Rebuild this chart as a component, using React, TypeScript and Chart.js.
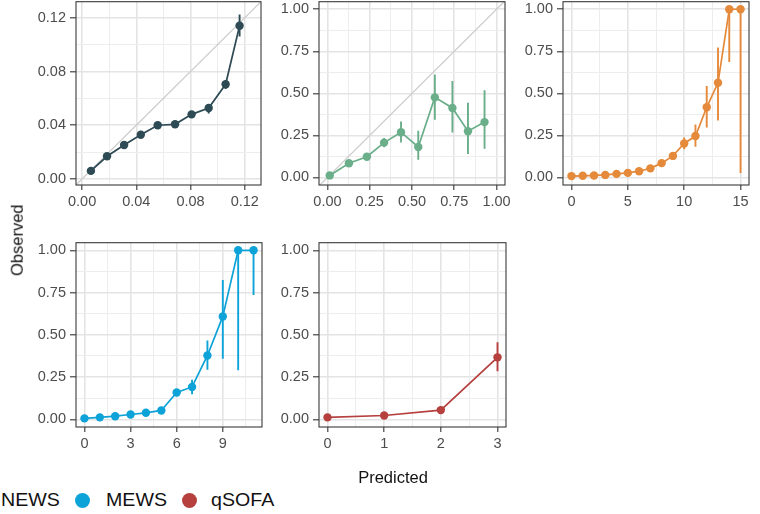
import React, { useEffect, useRef } from 'react';
import { Chart, registerables } from 'chart.js';

Chart.register(...registerables);

const FONT = '"Liberation Sans", Arial, Helvetica, sans-serif';

// ---------- Data ----------
// Panel 1 (dark slate model)
const m1Pred = [0.0065, 0.0184, 0.031, 0.0433, 0.0558, 0.0686, 0.0808, 0.0934, 0.1059, 0.1162];
const m1Obs = [0.006, 0.0169, 0.0253, 0.0329, 0.040, 0.0407, 0.0481, 0.0528, 0.0705, 0.1141];
const m1Lo = [0.0054, 0.0160, 0.0243, 0.0318, 0.0388, 0.0394, 0.0465, 0.0488, 0.0670, 0.1060];
const m1Hi = [0.0067, 0.0178, 0.0263, 0.0340, 0.0412, 0.0420, 0.0497, 0.0547, 0.0735, 0.1225];
const m1Ticks = [0, 0.04, 0.08, 0.12];

// Panel 2 (green model)
const m2Pred = [0.0135, 0.127, 0.233, 0.335, 0.435, 0.537, 0.635, 0.739, 0.831, 0.929];
const m2Obs = [0.012, 0.084, 0.123, 0.207, 0.269, 0.181, 0.476, 0.413, 0.275, 0.329];
const m2Lo = [0.006, 0.074, 0.110, 0.180, 0.207, 0.105, 0.343, 0.267, 0.140, 0.170];
const m2Hi = [0.018, 0.094, 0.136, 0.235, 0.333, 0.277, 0.612, 0.573, 0.444, 0.519];
const probTicks = [0, 0.25, 0.5, 0.75, 1];

// Panel 3 (NEWS)
const newsScore = [0, 1, 2, 3, 4, 5, 6, 7, 8, 9, 10, 11, 12, 13, 14, 15];
const newsObs = [0.008, 0.0097, 0.0117, 0.015, 0.021, 0.027, 0.037, 0.054, 0.085, 0.128, 0.202, 0.246, 0.417, 0.563, 1.0, 1.0];
const newsLo = [0.007, 0.009, 0.011, 0.014, 0.019, 0.025, 0.034, 0.049, 0.077, 0.115, 0.167, 0.183, 0.297, 0.339, 0.686, 0.027];
const newsHi = [0.009, 0.011, 0.013, 0.016, 0.023, 0.030, 0.041, 0.060, 0.094, 0.142, 0.238, 0.315, 0.544, 0.772, 1.0, 1.0];
const newsTicks = [0, 5, 10, 15];

// Panel 4 (MEWS)
const mewsScore = [0, 1, 2, 3, 4, 5, 6, 7, 8, 9, 10, 11];
const mewsObs = [0.006, 0.012, 0.019, 0.029, 0.039, 0.053, 0.159, 0.192, 0.378, 0.609, 1.0, 1.0];
const mewsLo = [0.005, 0.011, 0.017, 0.026, 0.035, 0.047, 0.145, 0.149, 0.294, 0.358, 0.29, 0.735];
const mewsHi = [0.007, 0.013, 0.021, 0.032, 0.043, 0.060, 0.174, 0.235, 0.466, 0.825, 1.0, 1.0];
const mewsTicks = [0, 3, 6, 9];

// Panel 5 (qSOFA)
const qsofaScore = [0, 1, 2, 3];
const qsofaObs = [0.012, 0.023, 0.055, 0.367];
const qsofaLo = [0.011, 0.021, 0.049, 0.285];
const qsofaHi = [0.013, 0.025, 0.062, 0.456];
const qsofaTicks = [0, 1, 2, 3];

const legendLabels = ['NEWS', 'MEWS', 'qSOFA'];
const legendColors = ['#E5893A', '#0EA3D8', '#B5403E'];

const xTitle = 'Predicted';
const yTitle = 'Observed';

// ---------- Layout ----------
type PanelSpec = {
  left: number; top: number; w: number; h: number;
  xMin: number; xMax: number; yMin: number; yMax: number;
  xTicks: number[]; yTicks: number[]; xDec: number; yDec: number;
  color: string; pred: number[]; obs: number[]; lo: number[]; hi: number[];
  identity: boolean;
};

const panels: PanelSpec[] = [
  { left: 76, top: 1, w: 185, h: 184, xMin: -0.0045, xMax: 0.132, yMin: -0.0045, yMax: 0.132,
    xTicks: m1Ticks, yTicks: m1Ticks, xDec: 2, yDec: 2, color: '#2E4A54',
    pred: m1Pred, obs: m1Obs, lo: m1Lo, hi: m1Hi, identity: true },
  { left: 319, top: 1, w: 186, h: 184, xMin: -0.05, xMax: 1.05, yMin: -0.045, yMax: 1.045,
    xTicks: probTicks, yTicks: probTicks, xDec: 2, yDec: 2, color: '#6AAE8A',
    pred: m2Pred, obs: m2Obs, lo: m2Lo, hi: m2Hi, identity: true },
  { left: 563, top: 1, w: 186, h: 184, xMin: -0.75, xMax: 15.75, yMin: -0.045, yMax: 1.045,
    xTicks: newsTicks, yTicks: probTicks, xDec: 0, yDec: 2, color: legendColors[0],
    pred: newsScore, obs: newsObs, lo: newsLo, hi: newsHi, identity: false },
  { left: 76, top: 242, w: 186, h: 185, xMin: -0.55, xMax: 11.55, yMin: -0.045, yMax: 1.045,
    xTicks: mewsTicks, yTicks: probTicks, xDec: 0, yDec: 2, color: legendColors[1],
    pred: mewsScore, obs: mewsObs, lo: mewsLo, hi: mewsHi, identity: false },
  { left: 319, top: 242, w: 187, h: 185, xMin: -0.15, xMax: 3.15, yMin: -0.045, yMax: 1.045,
    xTicks: qsofaTicks, yTicks: probTicks, xDec: 0, yDec: 2, color: legendColors[2],
    pred: qsofaScore, obs: qsofaObs, lo: qsofaLo, hi: qsofaHi, identity: false },
];

const YW = 76;
const PR = 24;
const PT = 12;
const XH = 34;

function makeAxis(min: number, max: number, majors: number[], dec: number, isX: boolean) {
  const step = majors[1] - majors[0];
  const minors: number[] = [];
  for (let v = majors[0] - step / 2; v <= max + 1e-12; v += step) {
    if (v >= min) minors.push(v);
  }
  const all = [...majors, ...minors].filter(v => v >= min && v <= max).sort((a, b) => a - b);
  const isMajor = (v: number) => majors.some(m => Math.abs(m - v) < step * 1e-3);
  return {
    type: 'linear' as const,
    min, max,
    bounds: 'data' as const,
    afterBuildTicks: (s: any) => { s.ticks = all.map(v => ({ value: v })); },
    afterFit: (s: any) => { if (isX) s.height = XH; else s.width = YW; },
    border: { display: false },
    grid: {
      color: (c: any) => (c.tick && isMajor(c.tick.value) ? '#E4E4E4' : '#EDEDED'),
      lineWidth: (c: any) => (c.tick && isMajor(c.tick.value) ? 1.6 : 1.0),
      tickColor: (c: any) => (c.tick && isMajor(c.tick.value) ? '#333333' : 'rgba(0,0,0,0)'),
      tickLength: isX ? 5 : 6,
      tickWidth: 1.1,
      drawTicks: true,
    },
    ticks: {
      autoSkip: false,
      maxRotation: 0,
      minRotation: 0,
      padding: isX ? 3 : 4,
      color: '#4D4D4D',
      font: { family: FONT, size: 14.5 },
      callback: (v: any) => (isMajor(Number(v)) ? Number(v).toFixed(dec) : ''),
    },
  };
}

function extrasPlugin(p: PanelSpec) {
  return {
    id: 'panelExtras',
    beforeDatasetsDraw(chart: any) {
      const { ctx, chartArea: a, scales } = chart;
      const x = scales.x, y = scales.y;
      ctx.save();
      ctx.beginPath();
      ctx.rect(a.left, a.top, a.right - a.left, a.bottom - a.top);
      ctx.clip();
      if (p.identity) {
        const lo = Math.min(p.xMin, p.yMin);
        const hi = Math.max(p.xMax, p.yMax);
        ctx.strokeStyle = '#CDCDCD';
        ctx.lineWidth = 1.3;
        ctx.beginPath();
        ctx.moveTo(x.getPixelForValue(lo), y.getPixelForValue(lo));
        ctx.lineTo(x.getPixelForValue(hi), y.getPixelForValue(hi));
        ctx.stroke();
      }
      ctx.strokeStyle = p.color;
      ctx.lineWidth = 1.9;
      ctx.beginPath();
      p.pred.forEach((xv, i) => {
        const px = x.getPixelForValue(xv);
        ctx.moveTo(px, y.getPixelForValue(p.lo[i]));
        ctx.lineTo(px, y.getPixelForValue(p.hi[i]));
      });
      ctx.stroke();
      ctx.restore();
    },
    afterDraw(chart: any) {
      const { ctx, chartArea: a } = chart;
      ctx.save();
      ctx.strokeStyle = '#3A3A3A';
      ctx.lineWidth = 1.1;
      ctx.strokeRect(a.left, a.top, a.right - a.left, a.bottom - a.top);
      ctx.restore();
    },
  };
}

function PanelChart({ p }: { p: PanelSpec }) {
  const ref = useRef<HTMLCanvasElement>(null);
  const cw = p.w + YW + PR;
  const ch = p.h + PT + XH;
  useEffect(() => {
    const pts = p.pred.map((xv, i) => ({ x: xv, y: p.obs[i] }));
    const chart = new Chart(ref.current as HTMLCanvasElement, {
      type: 'scatter',
      data: {
        datasets: [{
          data: pts,
          showLine: true,
          borderColor: p.color,
          backgroundColor: p.color,
          borderWidth: 1.7,
          pointRadius: 4.2,
          pointHoverRadius: 4.2,
          pointBorderWidth: 0,
          pointBackgroundColor: p.color,
        }],
      },
      options: {
        animation: false,
        responsive: false,
        devicePixelRatio: 1,
        layout: { padding: { left: 0, right: PR, top: PT, bottom: 0 } },
        plugins: { legend: { display: false }, tooltip: { enabled: false } },
        scales: {
          x: makeAxis(p.xMin, p.xMax, p.xTicks, p.xDec, true) as any,
          y: makeAxis(p.yMin, p.yMax, p.yTicks, p.yDec, false) as any,
        },
      },
      plugins: [extrasPlugin(p)],
    });
    return () => chart.destroy();
  }, []);
  return (
    <canvas
      ref={ref}
      width={cw}
      height={ch}
      style={{ position: 'absolute', left: p.left - YW, top: p.top - PT, width: cw, height: ch }}
    />
  );
}

const legendDotX = [-25, 82, 189];
const legendTextX = [1, 106, 211];

export default function App() {
  return (
    <div style={{ position: 'fixed', left: 0, top: 0, width: 760, height: 514, background: '#fff', overflow: 'hidden', fontFamily: FONT }}>
      {panels.map((p, i) => <PanelChart key={i} p={p} />)}
      <div style={{ position: 'absolute', left: 293, top: 469, width: 200, textAlign: 'center', fontSize: 16.5, lineHeight: '16.5px', color: '#111' }}>{xTitle}</div>
      <div style={{ position: 'absolute', left: 17 - 60, top: 240 - 8.25, width: 120, textAlign: 'center', fontSize: 16.5, lineHeight: '16.5px', color: '#111', transform: 'rotate(-90deg)', transformOrigin: 'center' }}>{yTitle}</div>
      {legendLabels.map((lab, i) => (
        <React.Fragment key={lab}>
          <div style={{ position: 'absolute', left: legendDotX[i] - 7.5, top: 493.2, width: 15, height: 15, borderRadius: '50%', background: legendColors[i] }} />
          <div style={{ position: 'absolute', left: legendTextX[i], top: 491.3, fontSize: 18.5, lineHeight: '18.5px', color: '#111', whiteSpace: 'nowrap', transform: 'scaleX(1.06)', transformOrigin: 'left center' }}>{lab}</div>
        </React.Fragment>
      ))}
    </div>
  );
}
